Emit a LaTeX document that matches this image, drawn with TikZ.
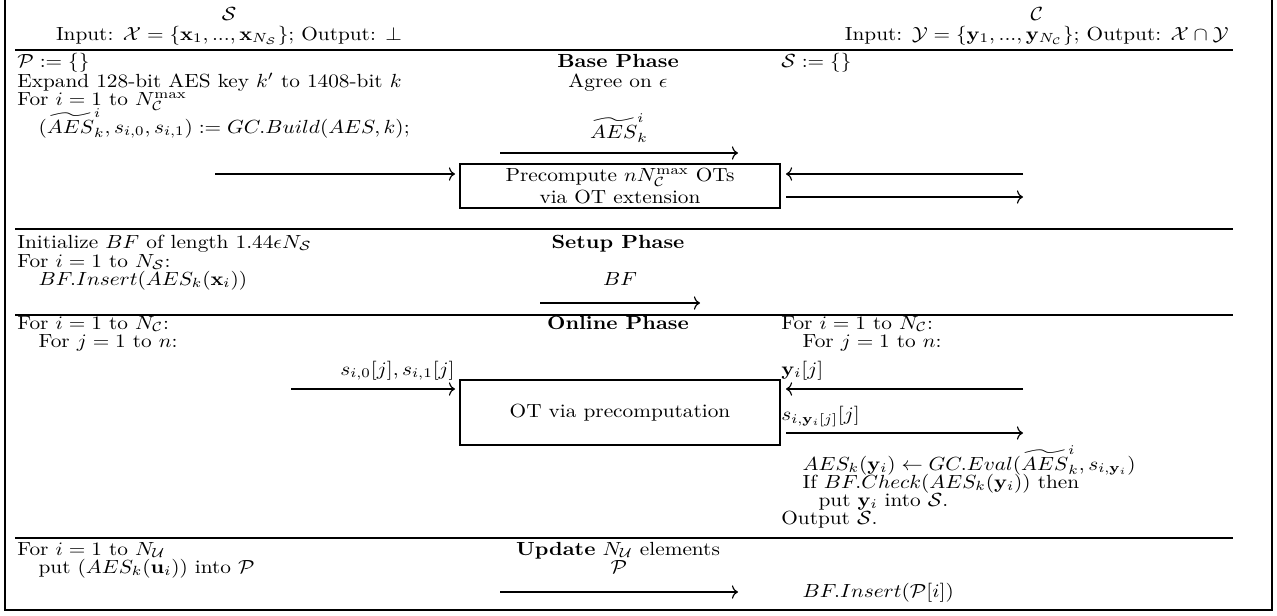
\documentclass[tikz,border=0pt]{standalone}
\usepackage{amsmath,amssymb,graphicx}
\usetikzlibrary{arrows.meta}
\newcommand{\W}[1]{\scalebox{1.12}[1]{#1}}
\begin{document}
\begin{tikzpicture}[x=0.5263pt,y=-0.5263pt,
  txt/.style={anchor=base west,inner sep=0pt},
  ctr/.style={anchor=base,inner sep=0pt},
  rgt/.style={anchor=base east,inner sep=0pt},
  msg/.style={-{To[length=3.2pt,width=7pt]},line width=0.6pt},
  rulel/.style={line width=0.9pt},
  otbox/.style={draw,line width=0.8pt,minimum width=168.4pt,align=center,inner sep=0pt}]
\useasboundingbox (0,0) rectangle (1277,615);
\coordinate (f1) at (5,-2); \coordinate (f2) at (5,610);
\coordinate (f3) at (1272,610); \coordinate (f4) at (1272,-2);
\draw[rulel] (f1) -- (f2) -- (f3) -- (f4);
% header
\node[ctr] (inS) at (229,40) {\W{Input: $\mathcal{X}=\{\mathbf{x}_1, ..., \mathbf{x}_{N_{\mathcal{S}}}\}$; Output: $\perp$}};
\node[ctr] (S) at (229,20) {\W{$\mathcal{S}$}};
\node[rgt] (inC) at (1229,40) {\W{Input: $\mathcal{Y}=\{\mathbf{y}_1, ..., \mathbf{y}_{N_{\mathcal{C}}}\}$; Output: $\mathcal{X}\cap\mathcal{Y}$}};
\node[ctr] (C) at (inC.center |- 0,20) {\W{$\mathcal{C}$}};
\coordinate (r1a) at (15,50); \coordinate (r1b) at (1233,50);
\draw[rulel] (r1a) -- (r1b);
% base phase
\node[txt] (P0) at (17,67) {\W{$\mathcal{P}:=\{\}$}};
\node[txt] (exp) at (17,87) {\W{Expand 128-bit AES key $k'$ to 1408-bit $k$}};
\node[txt] (formax) at (17,105) {\W{For $i=1$ to $N_{\mathcal{C}}^{\max}$}};
\node[txt] (build) at (17,133) {\W{\quad$(\widetilde{AES}^i_k, s_{i,0}, s_{i,1}) := GC.Build(AES,k)$;}};
\node[ctr] (basep) at (618,67) {\W{\textbf{Base Phase}}};
\node[ctr] (agree) at (618,87) {\W{Agree on $\epsilon$}};
\node[ctr] (aesl) at (619,138) {\W{$\widetilde{AES}^i_k$}};
\coordinate (a1s) at (500,153); \coordinate (a1e) at (738,153);
\draw[msg] (a1s) -- (a1e);
\node[txt] (S0) at (781,67) {\W{$\mathcal{S}:=\{\}$}};
\node[otbox,minimum height=23.2pt] (pre) at (620,186) {\W{Precompute $nN_{\mathcal{C}}^{\max}$ OTs}\\[-0.5pt]\W{via OT extension}};
\coordinate (a2s) at (215,174); \coordinate (a2e) at (455,174);
\draw[msg] (a2s) -- (a2e);
\coordinate (a3s) at (1023,174); \coordinate (a3e) at (786,174);
\draw[msg] (a3s) -- (a3e);
\coordinate (a4s) at (786,197); \coordinate (a4e) at (1023,197);
\draw[msg] (a4s) -- (a4e);
\coordinate (r2a) at (15,229); \coordinate (r2b) at (1233,229);
\draw[rulel] (r2a) -- (r2b);
% setup phase
\node[txt] (init) at (17,248) {\W{Initialize $BF$ of length $1.44\epsilon N_{\mathcal{S}}$}};
\node[txt] (fors) at (17,267) {\W{For $i=1$ to $N_{\mathcal{S}}$:}};
\node[txt] (ins) at (17,285) {\W{\quad$BF.Insert(AES_k(\mathbf{x}_i))$}};
\node[ctr] (setupp) at (618,248) {\W{\textbf{Setup Phase}}};
\node[ctr] (bfl) at (620,285) {\W{$BF$}};
\coordinate (a5s) at (540,303); \coordinate (a5e) at (700,303);
\draw[msg] (a5s) -- (a5e);
\coordinate (r3a) at (15,315); \coordinate (r3b) at (1233,315);
\draw[rulel] (r3a) -- (r3b);
% online phase
\node[txt] (forc) at (17,329) {\W{For $i=1$ to $N_{\mathcal{C}}$:}};
\node[txt] (forj) at (17,347) {\W{\quad For $j=1$ to $n$:}};
\node[ctr] (onlinep) at (618,329) {\W{\textbf{Online Phase}}};
\node[otbox,minimum height=34.2pt] (ot) at (620,412.5) {\W{OT via precomputation}};
\node[rgt] (sl) at (455,375) {\W{$s_{i,0}[j], s_{i,1}[j]$}};
\coordinate (a6s) at (291,389); \coordinate (a6e) at (455,389);
\draw[msg] (a6s) -- (a6e);
\node[txt] (rforc) at (781,329) {\W{For $i=1$ to $N_{\mathcal{C}}$:}};
\node[txt] (rforj) at (781,347) {\W{\quad For $j=1$ to $n$:}};
\node[txt] (yij) at (781,375) {\W{$\mathbf{y}_i[j]$}};
\coordinate (a7s) at (1023,389); \coordinate (a7e) at (786,389);
\draw[msg] (a7s) -- (a7e);
\node[txt] (syl) at (781,420) {\W{$s_{i,\mathbf{y}_i[j]}[j]$}};
\coordinate (a8s) at (786,433); \coordinate (a8e) at (1023,433);
\draw[msg] (a8s) -- (a8e);
\node[txt] (eval) at (781,470) {\W{\quad$AES_k(\mathbf{y}_i) \leftarrow GC.Eval(\widetilde{AES}^i_k, s_{i,\mathbf{y}_i})$}};
\node[txt] (ifc) at (781,488) {\W{\quad If $BF.Check(AES_k(\mathbf{y}_i))$ then}};
\node[txt] (puty) at (781,506) {\W{\quad\hspace{0.75em}put $\mathbf{y}_i$ into $\mathcal{S}$.}};
\node[txt] (outp) at (781,524) {\W{Output $\mathcal{S}$.}};
\coordinate (r4a) at (15,538); \coordinate (r4b) at (1233,538);
\draw[rulel] (r4a) -- (r4b);
% update phase
\node[txt] (foru) at (17,555) {\W{For $i=1$ to $N_{\mathcal{U}}$}};
\node[txt] (putu) at (17,573) {\W{\quad put $(AES_k(\mathbf{u}_i))$ into $\mathcal{P}$}};
\node[ctr] (updp) at (618,555) {\W{\textbf{Update} $N_{\mathcal{U}}$ elements}};
\node[ctr] (pl) at (619,573) {\W{$\mathcal{P}$}};
\coordinate (a9s) at (500,592); \coordinate (a9e) at (738,592);
\draw[msg] (a9s) -- (a9e);
\node[txt] (bfins) at (781,597) {\W{\quad$BF.Insert(\mathcal{P}[i])$}};
\end{tikzpicture}
\end{document}
